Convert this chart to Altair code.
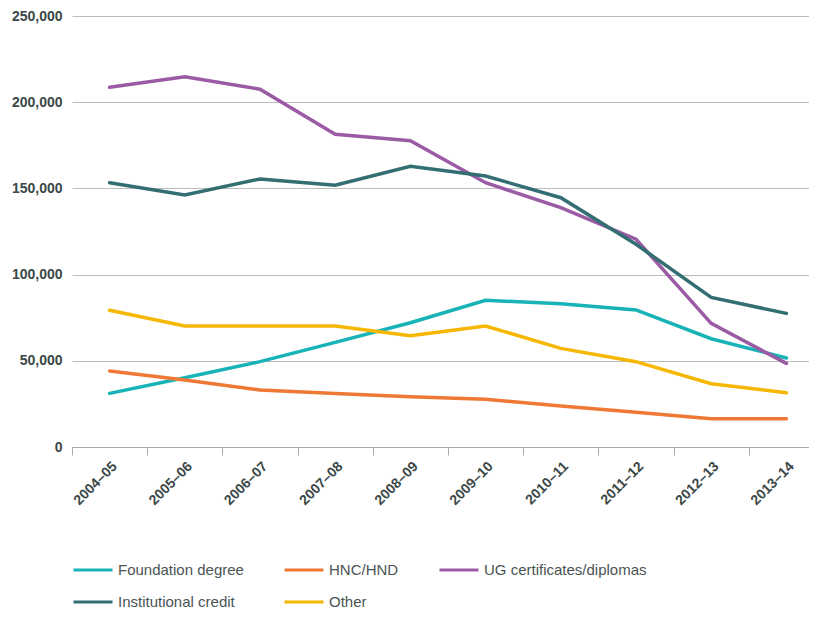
import altair as alt
import pandas as pd

years = ["2004–05", "2005–06", "2006–07", "2007–08", "2008–09",
         "2009–10", "2010–11", "2011–12", "2012–13", "2013–14"]

series_names = ["Foundation degree", "HNC/HND", "UG certificates/diplomas",
                "Institutional credit", "Other"]
series_colors = ["#17b3b6", "#f07835", "#9a5aa4", "#336e72", "#f5b700"]

foundation = [31100, 40200, 49500, 60700, 72100, 85100, 83100, 79500, 62800, 51600]
hnc_hnd = [44100, 38900, 33100, 31100, 29200, 27700, 23800, 20100, 16400, 16400]
ug_cert = [208700, 214800, 207500, 181400, 177700, 153300, 138800, 120500, 71700, 48500]
inst_credit = [153300, 146200, 155500, 151800, 162800, 157200, 144600, 117600, 86800, 77500]
other = [79300, 70200, 70200, 70200, 64600, 70200, 57200, 49500, 36700, 31500]

values = [foundation, hnc_hnd, ug_cert, inst_credit, other]
rows = []
for name, vals in zip(series_names, values):
    for y, v in zip(years, vals):
        rows.append({"year": y, "series": name, "value": v})
df = pd.DataFrame(rows)

label_color = "#3b4747"

chart = alt.Chart(df).mark_line(strokeWidth=3.5, strokeCap="round").encode(
    x=alt.X("year:N", sort=years, title=None,
            scale=alt.Scale(type="band", paddingInner=0, paddingOuter=0),
            axis=alt.Axis(labelAngle=-45, labelFont="Liberation Sans", labelFontSize=14,
                          labelFontWeight="bold", labelColor=label_color, tickBand="extent",
                          tickSize=8, tickColor="#aaaaaa", domainColor="#aaaaaa",
                          labelPadding=4, grid=False)),
    y=alt.Y("value:Q", title=None,
            scale=alt.Scale(domain=[0, 250000], nice=False),
            axis=alt.Axis(values=[0, 50000, 100000, 150000, 200000, 250000], format=",.0f",
                          labelFont="Liberation Sans", labelFontSize=14, labelFontWeight="bold",
                          labelColor=label_color, domain=False, ticks=False, labelPadding=10,
                          gridColor="#bdbdbd", gridWidth=1)),
    color=alt.Color("series:N", sort=series_names, title=None,
                    scale=alt.Scale(domain=series_names, range=series_colors),
                    legend=alt.Legend(orient="none", legendX=0, legendY=533, columns=3,
                                      direction="horizontal",
                                      symbolType="stroke", symbolSize=1521, symbolStrokeWidth=3,
                                      labelFont="Liberation Sans", labelFontSize=15,
                                      labelColor="#4a5454", labelOffset=4, columnPadding=34,
                                      rowPadding=3, padding=0, labelLimit=300)),
).properties(
    width=752, height=431,
    autosize=alt.AutoSizeParams(type="none"),
    padding={"left": 64, "top": 8, "right": -15, "bottom": 162},
).configure_view(stroke=None).configure_axis(gridColor="#bdbdbd")

chart.save("out.html", embed_options={"renderer": "svg", "actions": False})
